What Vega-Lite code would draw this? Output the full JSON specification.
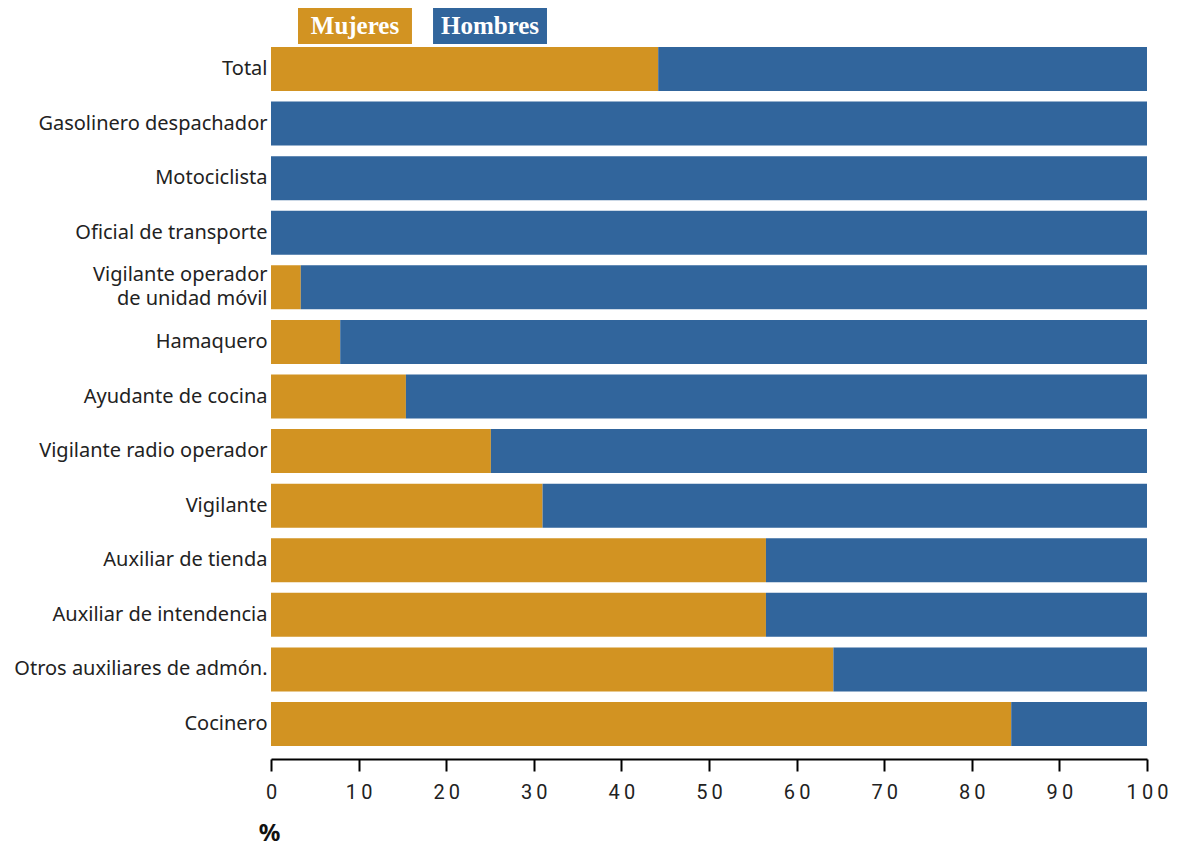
{
  "$schema": "https://vega.github.io/schema/vega-lite/v6.json",
  "background": "white",
  "padding": {"left": 13, "top": 8, "right": 5, "bottom": 0},
  "bounds": "flush",
  "spacing": 3,
  "config": {"view": {"stroke": null}},
  "datasets": {
    "leyenda": [{"sexo": "Mujeres"}, {"sexo": "Hombres"}],
    "barras": [
      {"ocupacion": "Total", "sexo": "Mujeres", "pct": 44.2},
      {"ocupacion": "Total", "sexo": "Hombres", "pct": 55.8},
      {"ocupacion": "Gasolinero despachador", "sexo": "Mujeres", "pct": 0},
      {"ocupacion": "Gasolinero despachador", "sexo": "Hombres", "pct": 100},
      {"ocupacion": "Motociclista", "sexo": "Mujeres", "pct": 0},
      {"ocupacion": "Motociclista", "sexo": "Hombres", "pct": 100},
      {"ocupacion": "Oficial de transporte", "sexo": "Mujeres", "pct": 0},
      {"ocupacion": "Oficial de transporte", "sexo": "Hombres", "pct": 100},
      {"ocupacion": "Vigilante operador|de unidad móvil", "sexo": "Mujeres", "pct": 3.4},
      {"ocupacion": "Vigilante operador|de unidad móvil", "sexo": "Hombres", "pct": 96.6},
      {"ocupacion": "Hamaquero", "sexo": "Mujeres", "pct": 7.9},
      {"ocupacion": "Hamaquero", "sexo": "Hombres", "pct": 92.1},
      {"ocupacion": "Ayudante de cocina", "sexo": "Mujeres", "pct": 15.4},
      {"ocupacion": "Ayudante de cocina", "sexo": "Hombres", "pct": 84.6},
      {"ocupacion": "Vigilante radio operador", "sexo": "Mujeres", "pct": 25.1},
      {"ocupacion": "Vigilante radio operador", "sexo": "Hombres", "pct": 74.9},
      {"ocupacion": "Vigilante", "sexo": "Mujeres", "pct": 31.0},
      {"ocupacion": "Vigilante", "sexo": "Hombres", "pct": 69.0},
      {"ocupacion": "Auxiliar de tienda", "sexo": "Mujeres", "pct": 56.5},
      {"ocupacion": "Auxiliar de tienda", "sexo": "Hombres", "pct": 43.5},
      {"ocupacion": "Auxiliar de intendencia", "sexo": "Mujeres", "pct": 56.5},
      {"ocupacion": "Auxiliar de intendencia", "sexo": "Hombres", "pct": 43.5},
      {"ocupacion": "Otros auxiliares de admón.", "sexo": "Mujeres", "pct": 64.2},
      {"ocupacion": "Otros auxiliares de admón.", "sexo": "Hombres", "pct": 35.8},
      {"ocupacion": "Cocinero", "sexo": "Mujeres", "pct": 84.5},
      {"ocupacion": "Cocinero", "sexo": "Hombres", "pct": 15.5}
    ]
  },
  "vconcat": [
    {
      "width": 303,
      "height": 36,
      "data": {"name": "leyenda"},
      "encoding": {
        "x": {
          "field": "sexo",
          "type": "nominal",
          "sort": ["Mujeres", "Hombres"],
          "scale": {"paddingInner": 0.156, "paddingOuter": 0.2},
          "axis": null
        }
      },
      "layer": [
        {
          "mark": {"type": "rect"},
          "encoding": {
            "color": {
              "field": "sexo",
              "type": "nominal",
              "scale": {"domain": ["Mujeres", "Hombres"], "range": ["#D29322", "#31659C"]},
              "legend": null
            }
          }
        },
        {
          "mark": {"type": "text", "color": "white", "font": "Liberation Serif", "fontSize": 25, "fontWeight": "bold", "baseline": "middle", "align": "center", "dy": 0},
          "encoding": {"text": {"field": "sexo"}}
        }
      ]
    },
    {
      "width": 876,
      "height": 699,
      "data": {"name": "barras"},
      "mark": {"type": "bar"},
      "encoding": {
        "y": {
          "field": "ocupacion",
          "type": "nominal",
          "sort": ["Total", "Gasolinero despachador", "Motociclista", "Oficial de transporte", "Vigilante operador|de unidad móvil", "Hamaquero", "Ayudante de cocina", "Vigilante radio operador", "Vigilante", "Auxiliar de tienda", "Auxiliar de intendencia", "Otros auxiliares de admón.", "Cocinero"],
          "scale": {"paddingInner": 0.194, "paddingOuter": 0},
          "axis": {
            "title": null,
            "domain": false,
            "ticks": false,
            "labelPadding": 4,
            "labelFont": "Noto Sans",
            "labelFontSize": 20,
            "labelColor": "#222222",
            "labelLimit": 400,
            "labelLineHeight": 24,
            "labelOffset": {"condition": {"test": "indexof(datum.value, '|') >= 0", "value": -12}, "value": 0},
            "labelExpr": "split(datum.label, '|')"
          }
        },
        "x": {
          "field": "pct",
          "type": "quantitative",
          "stack": "zero",
          "scale": {"domain": [0, 100], "nice": false},
          "axis": {
            "values": [0, 10, 20, 30, 40, 50, 60, 70, 80, 90, 100],
            "grid": false,
            "offset": 13,
            "domainColor": "#000000",
            "domainWidth": 2,
            "tickColor": "#000000",
            "tickWidth": 2,
            "tickSize": 12,
            "labelFont": "Roboto",
            "labelFontSize": 20,
            "labelColor": "#222222",
            "labelPadding": 11,
            "labelFlush": false,
            "labelExpr": "join(split(datum.label, ''), '\u2009')",
            "title": "%",
            "titleFont": "Noto Sans",
            "titleFontSize": 24,
            "titleFontWeight": "bold",
            "titleColor": "#111111",
            "titleX": -2,
            "titleY": 74,
            "titleAlign": "center",
            "titleBaseline": "middle"
          }
        },
        "color": {
          "field": "sexo",
          "type": "nominal",
          "scale": {"domain": ["Mujeres", "Hombres"], "range": ["#D29322", "#31659C"]},
          "legend": null
        },
        "order": {"field": "sexo", "sort": "descending"}
      }
    }
  ]
}
